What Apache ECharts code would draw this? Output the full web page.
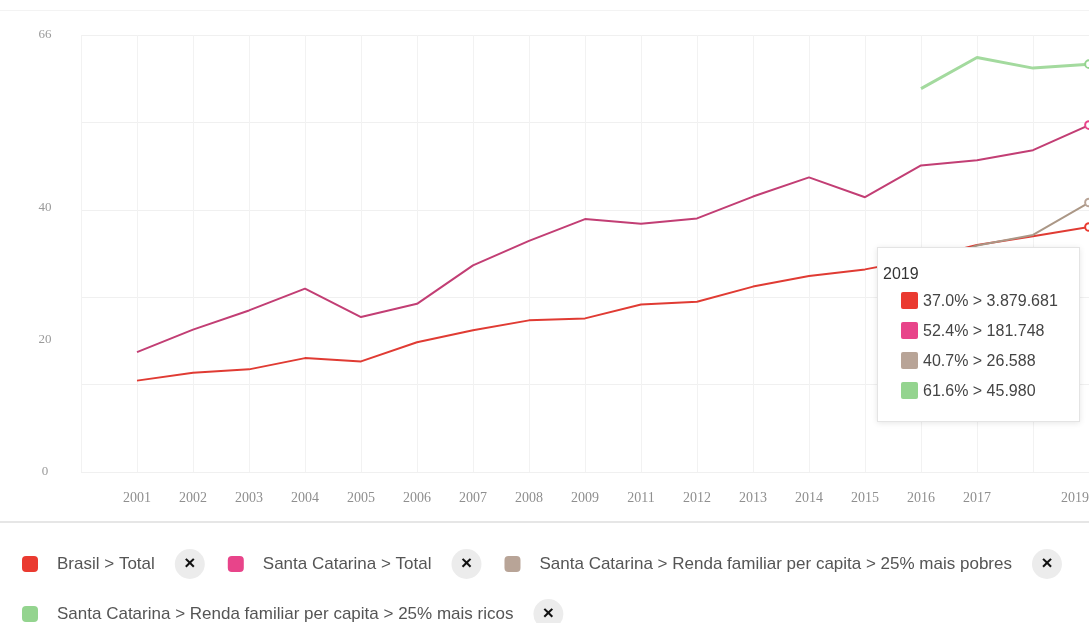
<!DOCTYPE html>
<html>
<head>
<meta charset="utf-8">
<style>
  html, body { margin: 0; padding: 0; background: #fff; }
  #chart { width: 1089px; height: 623px; }
</style>
<script src="https://cdn.jsdelivr.net/npm/echarts@6/dist/echarts.min.js"></script>
</head>
<body>
<div id="chart"></div>
<script>
// Survey years (no survey in 2010); the first slot is an empty lead-in column
const years = ['', '2001', '2002', '2003', '2004', '2005', '2006', '2007', '2008', '2009',
  '2011', '2012', '2013', '2014', '2015', '2016', '2017', '2018', '2019'];

// Percentages per year
const brasilTotal = [null, 13.8, 15.0, 15.5, 17.2, 16.7, 19.6, 21.4, 22.9, 23.2,
  25.3, 25.7, 28.0, 29.6, 30.6, 32.2, 34.3, 35.6, 37.0];
const scTotal = [null, 18.1, 21.5, 24.4, 27.7, 23.4, 25.4, 31.2, 34.9, 38.2,
  37.5, 38.3, 41.6, 44.5, 41.5, 46.3, 47.1, 48.6, 52.4];
const scPoorest = [null, null, null, null, null, null, null, null, null, null,
  null, null, null, null, null, 31.0, 34.2, 35.8, 40.7];
const scRichest = [null, null, null, null, null, null, null, null, null, null,
  null, null, null, null, null, 57.9, 62.6, 61.0, 61.6];

// Absolute counts for the last year, shown in the tooltip
const counts2019 = [3879681, 181748, 26588, 45980];

const seriesNames = [
  'Brasil > Total',
  'Santa Catarina > Total',
  'Santa Catarina > Renda familiar per capita > 25% mais pobres',
  'Santa Catarina > Renda familiar per capita > 25% mais ricos'
];

// Value axis labels and year labels left out
const yLabelValues = [0, 20, 40, 66];
const hiddenYearLabels = ['2018'];

const lineColors = ['#e03b33', '#c23e74', '#ab9786', '#a3da9e'];
const swatchColors = ['#ea3a30', '#e8448a', '#b8a497', '#94d48f'];
const lineWidths = [2, 2, 2, 3];
const seriesData = [brasilTotal, scTotal, scPoorest, scRichest];

const chart = echarts.init(document.getElementById('chart'), null, { renderer: 'canvas' });

function formatCount(n) {
  return String(n).replace(/\B(?=(\d{3})+(?!\d))/g, '.');
}

const legendRich = {
  g: { width: 14 },
  t: { fontSize: 17, color: '#555', fontFamily: 'Liberation Sans, Arial, sans-serif' },
  s: { width: 20 },
  x: {
    width: 30, height: 30, lineHeight: 30, align: 'center',
    backgroundColor: '#ececec', borderRadius: 15,
    fontSize: 19, fontWeight: 'bold', color: '#111',
    fontFamily: 'Liberation Sans, Arial, sans-serif'
  }
};

function legendBlock(names, top) {
  return {
    show: true,
    left: 22,
    top: top,
    orient: 'horizontal',
    itemWidth: 16,
    itemHeight: 16,
    itemGap: 23,
    icon: 'roundRect',
    selectedMode: false,
    padding: 0,
    data: names.map(n => {
      const i = seriesNames.indexOf(n);
      return { name: n, icon: 'roundRect', itemStyle: { color: swatchColors[i], borderWidth: 0 } };
    }),
    formatter: name => '{g| }{t|' + name + '}{s| }{x|×}',
    textStyle: { rich: legendRich }
  };
}

const option = {
  animation: false,
  backgroundColor: '#fff',
  grid: {
    left: 81,
    top: 35,
    width: 1008,
    height: 437,
    containLabel: false,
    outerBoundsMode: 'none'
  },
  xAxis: {
    type: 'category',
    data: years,
    boundaryGap: false,
    axisLine: { show: false },
    axisTick: { show: false },
    splitLine: { show: true, interval: 0, lineStyle: { color: '#f2f2f2', width: 1 } },
    axisLabel: {
      interval: (i, v) => v !== '' && !hiddenYearLabels.includes(v),
      alignMaxLabel: 'right',
      margin: 19,
      color: '#8f8f8f',
      fontFamily: 'Liberation Serif, Times New Roman, serif',
      fontSize: 14
    }
  },
  yAxis: {
    type: 'value',
    min: 0,
    max: 66,
    interval: 13.2,
    axisLine: { show: false },
    axisTick: { show: false },
    splitLine: { show: true, lineStyle: { color: '#f0f0f0', width: 1 } },
    axisLabel: {
      customValues: yLabelValues,
      align: 'center',
      margin: 36,
      color: '#9a9a9a',
      fontFamily: 'Liberation Serif, Times New Roman, serif',
      fontSize: 13
    }
  },
  tooltip: {
    show: true,
    trigger: 'axis',
    triggerOn: 'none',
    alwaysShowContent: true,
    confine: false,
    axisPointer: { type: 'none' },
    transitionDuration: 0,
    padding: 0,
    borderWidth: 1,
    borderColor: '#e4e4e4',
    borderRadius: 0,
    backgroundColor: '#ffffff',
    extraCssText: 'box-shadow:0 1px 6px rgba(0,0,0,0.10);width:203px;height:175px;box-sizing:border-box;',
    position: [877, 247],
    formatter: params => {
      const idx = params && params.length ? params[0].dataIndex : years.length - 1;
      const font = "font-family:'Liberation Sans',Arial,sans-serif;font-size:16px;";
      let html = '<div style="' + font + 'color:#333;line-height:16px;padding:18px 0 0 5px;height:16px;">' + years[idx] + '</div>';
      html += '<div style="margin-top:4px;">';
      seriesData.forEach((arr, i) => {
        const v = arr[idx];
        if (v == null) return;
        html += '<div style="' + font + 'color:#444;height:30px;line-height:30px;white-space:nowrap;">' +
          '<span style="display:inline-block;vertical-align:middle;width:17px;height:17px;border-radius:2px;margin:-3px 5px 0 23px;background:' +
          swatchColors[i] + ';"></span>' + v.toFixed(1) + '% &gt; ' + formatCount(counts2019[i]) + '</div>';
      });
      html += '</div>';
      return html;
    }
  },
  legend: [
    legendBlock(seriesNames.slice(0, 3), 549),
    legendBlock(seriesNames.slice(3), 599)
  ],
  graphic: [
    { type: 'rect', silent: true, shape: { x: 0, y: 10, width: 1089, height: 1 }, style: { fill: '#f3f3f3' } },
    { type: 'rect', silent: true, shape: { x: 0, y: 521, width: 1089, height: 2 }, style: { fill: '#e6e6e6' } }
  ],
  series: seriesNames.map((name, i) => ({
    name: name,
    type: 'line',
    data: seriesData[i],
    showSymbol: false,
    symbolSize: 7,
    connectNulls: false,
    itemStyle: { color: swatchColors[i] },
    lineStyle: { color: lineColors[i], width: lineWidths[i] },
    emphasis: { disabled: true }
  }))
};

chart.setOption(option);
chart.dispatchAction({ type: 'showTip', seriesIndex: 0, dataIndex: years.length - 1 });
</script>
</body>
</html>
